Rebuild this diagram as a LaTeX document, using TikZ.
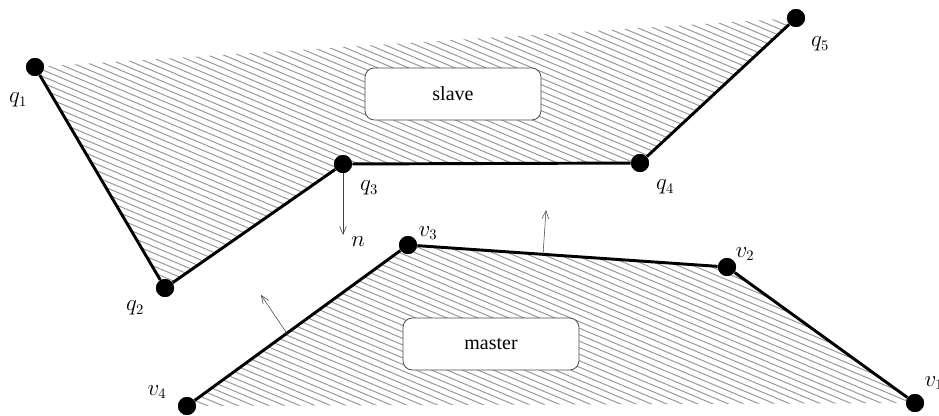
\documentclass[tikz,border=0pt]{standalone}
\usepackage{fontspec}
\setmainfont{Liberation Serif}
\usepackage{tikz}
\usetikzlibrary{arrows.meta,calc}

\begin{document}
\begin{tikzpicture}
[x=0.75pt,y=-0.75pt,semithick,
dot/.style={circle,fill=black,inner sep=0pt,minimum size=13.5pt},
lbl/.style={font=\fontsize{16}{19}\selectfont},
hatch/.style={gray!80,line width=0.75pt},
rim/.style={line width=2.2pt},
box/.style={draw=black!70,fill=white,rounded corners=7pt,minimum width=132pt,minimum height=39pt,font=\fontsize{15}{18}\selectfont},
normal/.style={-{Straight Barb[length=6pt,width=5pt]},black!75,thin}]
\useasboundingbox (0,0) rectangle (939,415);

% corner points
\node (q1) at (35,67)[dot] {};
\node (q2) at (165,288)[dot] {};
\node (q3) at (343,164)[dot] {};
\node (q4) at (640,163)[dot] {};
\node (q5) at (796,18)[dot] {};
\node (v1) at (915,403)[dot] {};
\node (v2) at (727,267)[dot] {};
\node (v3) at (408,245)[dot] {};
\node (v4) at (187,406)[dot] {};

% hatching
\begin{scope}
\clip (q1.center) -- (q2.center) -- (q3.center) -- (q4.center) -- (q5.center) -- cycle;
\foreach \k in {-65,...,66}
  \draw[hatch] (0,\k*6.5) -- (939,\k*6.5+395);
\end{scope}
\begin{scope}
\clip (v4.center) -- (v3.center) -- (v2.center) -- (v1.center) -- cycle;
\foreach \k in {-65,...,66}
  \draw[hatch] (0,\k*6.5) -- (939,\k*6.5+395);
\end{scope}

% edges
\draw[rim] (q1) -- (q2) -- (q3) -- (q4) -- (q5);
\draw[rim] (v4) -- (v3) -- (v2) -- (v1);
\foreach \p in {q1,q2,q3,q4,q5,v1,v2,v3,v4}
  \node at (\p)[dot] {};

\node (slave) at (453,94)[box] {slave};
\node (master) at (491,344)[box] {master};

% normals
\coordinate (n1) at (343,235);
\coordinate (a2) at (543,255);
\coordinate (n2) at (546,210);
\coordinate (a3) at (288,335);
\coordinate (n3) at (261,295);
\draw[normal] (q3) -- (n1);
\draw[normal] (a2) -- (n2);
\draw[normal] (a3) -- (n3);

% labels
\node at (18,100)[lbl] {$q_1$};
\node at (135,308)[lbl] {$q_2$};
\node at (369,188)[lbl] {$q_3$};
\node at (665,187)[lbl] {$q_4$};
\node at (820,44)[lbl] {$q_5$};
\node at (358,242)[lbl] {$n$};
\node at (428,233)[lbl] {$v_3$};
\node at (745,254)[lbl] {$v_2$};
\node at (157,392)[lbl] {$v_4$};
\node at (934,383)[lbl] {$v_1$};

\end{tikzpicture}
\end{document}
